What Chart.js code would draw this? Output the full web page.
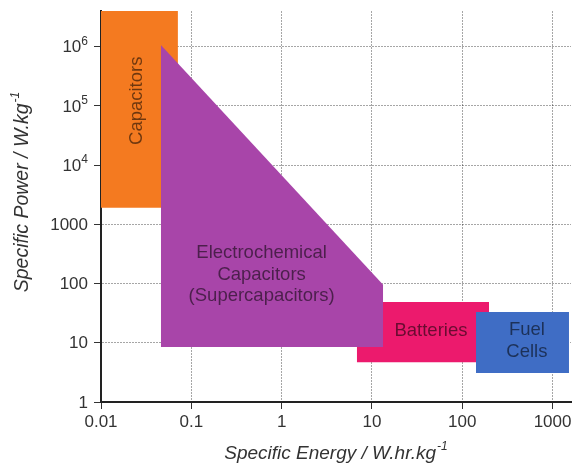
<!DOCTYPE html>
<html><head><meta charset="utf-8">
<script src="https://cdn.jsdelivr.net/npm/chart.js@4"></script>
<style>html,body{margin:0;padding:0;background:#fff}#wrap{width:572px;height:468px}</style>
</head><body><div id="wrap"><canvas id="c" width="572" height="468"></canvas></div>
<script>
// Axis ticks
const xTicks = [0.01, 0.1, 1, 10, 100, 1000];
const xTickLabels = ['0.01', '0.1', '1', '10', '100', '1000'];
const yTicks = [1, 10, 100, 1000, 1e4, 1e5, 1e6];
const yTickBase = ['1', '10', '100', '1000', '10', '10', '10'];
const yTickExp = ['', '', '', '', '4', '5', '6'];

// Axis titles (main text + superscript)
const xTitle = ['Specific Energy / W.hr.kg', '-1'];
const yTitle = ['Specific Power / W.kg', '-1'];

// Regions (specific energy W.hr/kg : left, right ; specific power W/kg : top-left, top-right, bottom)
const categories = ['Capacitors', 'Electrochemical Capacitors (Supercapacitors)', 'Batteries', 'Fuel Cells'];
const capacitorsEnergy = [0.01, 0.071];
const capacitorsPower = [4.0e6, 4.0e6, 1900];
const superEnergy = [0.046, 13.3];
const superPower = [1.07e6, 95, 8.5];
const batteriesEnergy = [6.8, 198];
const batteriesPower = [49, 49, 4.7];
const fuelEnergy = [142, 1520];
const fuelPower = [33, 33, 3.1];

// Region labels
const labelLines = [['Capacitors'], ['Electrochemical', 'Capacitors', '(Supercapacitors)'], ['Batteries'], ['Fuel', 'Cells']];
const labelEnergy = [0.025, 0.6, 45, 520];
const labelPower = [1.22e5, 140, 15.8, 10.7];

const FONT = '"Liberation Sans", Arial, Helvetica, sans-serif';
const regionColors = ['#F47A20', '#A845A9', '#EC1A6D', '#3F6DC5'];
const regionOrder = [4, 2, 3, 1];
const energyArr = [capacitorsEnergy, superEnergy, batteriesEnergy, fuelEnergy];
const powerArr = [capacitorsPower, superPower, batteriesPower, fuelPower];

const datasets = categories.map((name, i) => ({
  label: name,
  data: [{x: energyArr[i][0], y: powerArr[i][0]}, {x: energyArr[i][1], y: powerArr[i][1]}],
  showLine: true,
  borderWidth: 0,
  borderColor: 'rgba(0,0,0,0)',
  pointRadius: 0,
  tension: 0,
  backgroundColor: regionColors[i],
  fill: {value: powerArr[i][2]},
  order: regionOrder[i]
}));

function drawSupText(ctx, main, sup, size, italic) {
  // draws centred at origin (text baseline at y=0)
  const st = italic ? 'italic ' : '';
  ctx.font = st + size + 'px ' + FONT;
  const w1 = ctx.measureText(main).width;
  ctx.font = st + Math.round(size * 0.62) + 'px ' + FONT;
  const w2 = ctx.measureText(sup).width;
  const x0 = -(w1 + w2 + 1) / 2;
  ctx.textAlign = 'left';
  ctx.textBaseline = 'alphabetic';
  ctx.font = st + size + 'px ' + FONT;
  ctx.fillText(main, x0, 0);
  ctx.font = st + Math.round(size * 0.62) + 'px ' + FONT;
  ctx.fillText(sup, x0 + w1 + 1, -size * 0.45);
}

const labelPlugin = {
  id: 'regionLabels',
  afterDatasetsDraw(chart) {
    const {ctx, scales: {x, y}} = chart;
    ctx.save();
    ctx.font = '18.5px ' + FONT;
    ctx.textAlign = 'center';
    ctx.textBaseline = 'middle';
    ctx.fillStyle = 'rgba(0,0,0,0.55)';
    labelLines.forEach((lines, i) => {
      const px = x.getPixelForValue(labelEnergy[i]);
      const py = y.getPixelForValue(labelPower[i]);
      ctx.save();
      ctx.translate(px, py);
      if (i === 0) ctx.rotate(-Math.PI / 2);
      const lh = 21.5;
      lines.forEach((t, k) => ctx.fillText(t, 0, (k - (lines.length - 1) / 2) * lh));
      ctx.restore();
    });
    ctx.restore();
  },
  afterDraw(chart) {
    const {ctx, scales: {x, y}, chartArea} = chart;
    ctx.save();
    ctx.fillStyle = '#333';
    // y tick labels with superscript exponents
    const right = chartArea.left - 13;
    yTicks.forEach((v, i) => {
      const py = y.getPixelForValue(v);
      ctx.font = '12px ' + FONT;
      const we = yTickExp[i] ? ctx.measureText(yTickExp[i]).width : 0;
      ctx.textAlign = 'right';
      ctx.textBaseline = 'middle';
      ctx.font = '17px ' + FONT;
      ctx.fillText(yTickBase[i], right - we, py + 1);
      if (yTickExp[i]) {
        ctx.font = '12px ' + FONT;
        ctx.fillText(yTickExp[i], right, py - 5);
      }
    });
    // axis titles
    ctx.save();
    ctx.translate((chartArea.left + chartArea.right) / 2, 459);
    drawSupText(ctx, xTitle[0], xTitle[1], 19, true);
    ctx.restore();
    ctx.save();
    ctx.translate(28, 192);
    ctx.rotate(-Math.PI / 2);
    drawSupText(ctx, yTitle[0], yTitle[1], 19.5, true);
    ctx.restore();
    ctx.restore();
  }
};

const gridOpts = {color: 'rgba(0,0,0,0.35)', lineWidth: 1, tickLength: 7, tickColor: '#333', drawTicks: true};
const borderOpts = {display: true, color: '#222', width: 2, dash: [2, 1]};

new Chart(document.getElementById('c'), {
  type: 'scatter',
  data: {datasets},
  plugins: [labelPlugin],
  options: {
    responsive: false,
    animation: false,
    events: [],
    layout: {padding: {top: 11, right: 1, left: 0, bottom: 0}},
    plugins: {legend: {display: false}, tooltip: {enabled: false}},
    scales: {
      x: {
        type: 'logarithmic', position: 'bottom', min: 0.01, max: 1600,
        afterBuildTicks: s => { s.ticks = xTicks.map(v => ({value: v})); },
        afterFit: s => { s.height = 66; s.paddingRight = 0; s.paddingLeft = 0; },
        ticks: {callback: (v, i) => xTickLabels[i], font: {size: 17, family: FONT}, color: '#333', padding: 3, maxRotation: 0, autoSkip: false},
        grid: gridOpts,
        border: borderOpts,
        title: {display: false}
      },
      y: {
        type: 'logarithmic', position: 'left', min: 1, max: 4.0e6,
        afterBuildTicks: s => { s.ticks = yTicks.map(v => ({value: v})); },
        afterFit: s => { s.width = 101; s.paddingTop = 0; s.paddingBottom = 0; },
        ticks: {display: false},
        grid: gridOpts,
        border: borderOpts,
        title: {display: false}
      }
    }
  }
});
</script>
</body></html>
